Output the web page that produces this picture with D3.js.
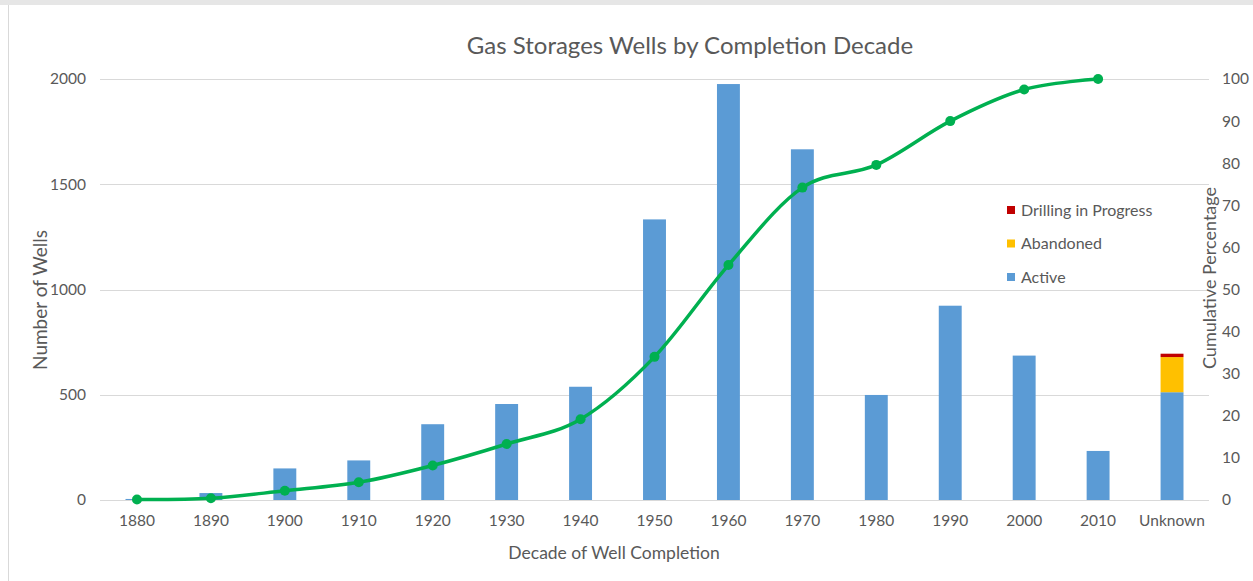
<!DOCTYPE html>
<html>
<head>
<meta charset="utf-8">
<script src="https://cdn.jsdelivr.net/npm/d3@7"></script>
<style>
  body { margin: 0; background: #fff; }
  text { font-family: Lato, "Open Sans", sans-serif; fill: #595959; }
</style>
</head>
<body>
<div id="chart"></div>
<script>
// categories and values
let decades = ["1880", "1890", "1900", "1910", "1920", "1930", "1940", "1950", "1960", "1970", "1980", "1990", "2000", "2010", "Unknown"];
let active = [5, 33, 150, 188, 360, 456, 538, 1333, 1976, 1666, 499, 923, 686, 233, 512];
let abandoned = [0, 0, 0, 0, 0, 0, 0, 0, 0, 0, 0, 0, 0, 0, 167];
let drilling = [0, 0, 0, 0, 0, 0, 0, 0, 0, 0, 0, 0, 0, 0, 16];
let cumulative = [0.1, 0.4, 2.2, 4.2, 8.2, 13.3, 19.2, 34, 55.8, 74.2, 79.6, 90, 97.5, 100];
let leftTicks = [0, 500, 1000, 1500, 2000];
let rightTicks = [0, 10, 20, 30, 40, 50, 60, 70, 80, 90, 100];

function drawChart(width, height, selector) {

	let margin = { top: 79, left: 100, right: 44, bottom: 81 };
	let chartWidth = width - margin.left - margin.right;
	let chartHeight = height - margin.top - margin.bottom;

	let svg = d3.select(selector)
		.append("svg")
		.attr("width", width)
		.attr("height", height);

	// frame of the chart object
	svg.append("rect")
		.attr("x", 0).attr("y", 0)
		.attr("width", width).attr("height", 5)
		.attr("fill", "#e6e6e6");
	svg.append("line")
		.attr("x1", 8.5).attr("x2", 8.5)
		.attr("y1", 5).attr("y2", height)
		.attr("stroke", "#d9d9d9");

	let chart = svg.append("g")
		.attr("transform", "translate(" + margin.left + "," + margin.top + ")");

	// scales
	let xPositionScale = d3.scaleBand()
		.domain(decades)
		.range([0, chartWidth])
		.paddingInner(0.69)
		.paddingOuter(0.345);

	let yPositionScale = d3.scaleLinear()
		.domain([0, 2000])
		.range([chartHeight, 0]);

	let pctScale = d3.scaleLinear()
		.domain([0, 100])
		.range([chartHeight, 0]);

	// gridlines
	chart.append("g")
		.selectAll("line")
		.data(leftTicks)
		.join("line")
		.attr("x1", 0)
		.attr("x2", chartWidth)
		.attr("y1", d => Math.round(yPositionScale(d)) + 0.5)
		.attr("y2", d => Math.round(yPositionScale(d)) + 0.5)
		.attr("stroke", "#d9d9d9")
		.attr("stroke-width", 1);

	// stacked bars
	let rows = decades.map((d, i) => ({ decade: d, Active: active[i], Abandoned: abandoned[i], Drilling: drilling[i] }));
	let keys = ["Active", "Abandoned", "Drilling"];
	let colors = { Active: "#5b9bd5", Abandoned: "#ffc000", Drilling: "#c00000" };
	let stacked = d3.stack().keys(keys)(rows);

	chart.selectAll(".series")
		.data(stacked)
		.join("g")
		.attr("class", "series")
		.attr("fill", d => colors[d.key])
		.selectAll("rect")
		.data(d => d)
		.join("rect")
		.attr("x", d => xPositionScale(d.data.decade))
		.attr("width", xPositionScale.bandwidth())
		.attr("y", d => yPositionScale(d[1]))
		.attr("height", d => yPositionScale(d[0]) - yPositionScale(d[1]));

	// cumulative line
	let linePoints = cumulative.map((v, i) => ({ decade: decades[i], value: v }));
	let line = d3.line()
		.curve(d3.curveCardinal.tension(0))
		.x(d => xPositionScale(d.decade) + xPositionScale.bandwidth() / 2)
		.y(d => pctScale(d.value));

	chart.append("path")
		.attr("d", line(linePoints))
		.attr("fill", "none")
		.attr("stroke", "#00b050")
		.attr("stroke-width", 3.5);

	chart.selectAll(".dot")
		.data(linePoints)
		.join("circle")
		.attr("class", "dot")
		.attr("cx", d => xPositionScale(d.decade) + xPositionScale.bandwidth() / 2)
		.attr("cy", d => pctScale(d.value))
		.attr("r", 5)
		.attr("fill", "#00b050");

	// axes
	let xAxis = d3.axisBottom(xPositionScale).tickSize(0).tickPadding(15);
	chart.append("g")
		.attr("class", "axis x-axis")
		.attr("transform", "translate(0," + chartHeight + ")")
		.call(xAxis);

	let yAxis = d3.axisLeft(yPositionScale).tickValues(leftTicks).tickSize(0).tickPadding(14).tickFormat(d3.format("d"));
	chart.append("g")
		.attr("class", "axis y-axis")
		.call(yAxis);

	let yAxisRight = d3.axisRight(pctScale).tickValues(rightTicks).tickSize(0).tickPadding(13).tickFormat(d3.format("d"));
	chart.append("g")
		.attr("class", "axis y-axis-right")
		.attr("transform", "translate(" + chartWidth + ",0)")
		.call(yAxisRight);

	svg.selectAll(".axis .domain").remove();
	svg.selectAll(".axis text")
		.attr("font-size", 15.5)
		.attr("font-family", null)
		.attr("fill", null);

	// titles
	svg.append("text")
		.attr("x", 690)
		.attr("y", 54)
		.attr("text-anchor", "middle")
		.attr("font-size", 24)
		.text("Gas Storages Wells by Completion Decade");

	svg.append("text")
		.attr("x", 614)
		.attr("y", 559)
		.attr("text-anchor", "middle")
		.attr("font-size", 17.5)
		.text("Decade of Well Completion");

	svg.append("text")
		.attr("transform", "translate(47,300) rotate(-90)")
		.attr("text-anchor", "middle")
		.attr("font-size", 19)
		.text("Number of Wells");

	svg.append("text")
		.attr("transform", "translate(1216,278) rotate(-90)")
		.attr("text-anchor", "middle")
		.attr("font-size", 18)
		.text("Cumulative Percentage");

	// legend
	let legendItems = [
		{ label: "Drilling in Progress", key: "Drilling" },
		{ label: "Abandoned", key: "Abandoned" },
		{ label: "Active", key: "Active" }
	];
	let legend = svg.append("g")
		.attr("transform", "translate(1007,210)");
	let item = legend.selectAll("g")
		.data(legendItems)
		.join("g")
		.attr("transform", (d, i) => "translate(0," + (i * 33.5) + ")");
	item.append("rect")
		.attr("x", 0).attr("y", -4)
		.attr("width", 8).attr("height", 8)
		.attr("fill", d => colors[d.key]);
	item.append("text")
		.attr("x", 14)
		.attr("y", 0)
		.attr("dy", "0.35em")
		.attr("font-size", 16)
		.text(d => d.label);
}

drawChart(1253, 581, "#chart");
</script>
</body>
</html>
